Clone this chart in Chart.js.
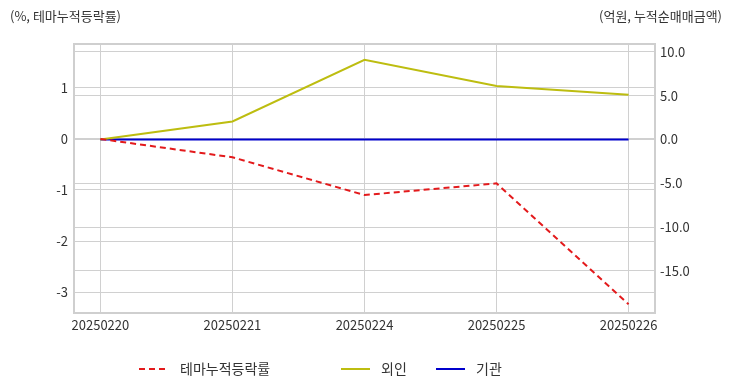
<!DOCTYPE html>
<html>
    <head>
        <meta charset="utf-8">
        <script src="https://cdn.jsdelivr.net/npm/chart.js@4.4.0/dist/chart.umd.min.js"></script>
        <style>
            html, body { margin: 0; padding: 0; background: #fff; }
        </style>
    </head>
    <body>
        <div style="width: 732px; height: 392px;">
            <canvas id="wykres" width="732" height="392"></canvas>
        </div>
        <script>
            // dane
            var dni = ["20250220", "20250221", "20250224", "20250225", "20250226"];
            var temaDane = [0, -0.36, -1.10, -0.87, -3.24];   // %
            var obcyDane = [0, 2.06, 9.1, 6.1, 5.1];          // 억원
            var instDane = [0, 0, 0, 0, 0];                   // 억원
            var lewyTytul = "(%, 테마누적등락률)";
            var prawyTytul = "(억원, 누적순매매금액)";

            var czcionka = "'Noto Sans CJK KR', 'Noto Sans', sans-serif";

            function punkty(arr) {
                return arr.map(function (v, i) { return { x: i, y: v }; });
            }

            var dane = {
                datasets: [
                    {
                        label: "테마누적등락률",
                        data: punkty(temaDane),
                        yAxisID: "yL",
                        borderColor: "#e31a1c",
                        borderWidth: 2,
                        borderDash: [6, 4],
                        pointRadius: 0,
                        tension: 0
                    },
                    {
                        label: "외인",
                        data: punkty(obcyDane),
                        yAxisID: "yR",
                        borderColor: "#bdbd10",
                        borderWidth: 2,
                        pointRadius: 0,
                        tension: 0
                    },
                    {
                        label: "기관",
                        data: punkty(instDane),
                        yAxisID: "yR",
                        borderColor: "#0000cc",
                        borderWidth: 2,
                        pointRadius: 0,
                        tension: 0
                    }
                ]
            };

            // napisy nad osiami + legenda
            var dodatki = {
                id: "dodatki",
                afterDraw: function (chart) {
                    var c = chart.ctx;
                    c.save();
                    c.font = "13px " + czcionka;
                    c.fillStyle = "#333";
                    c.textBaseline = "middle";
                    c.textAlign = "left";
                    c.fillText(lewyTytul, 10, 16);
                    c.textAlign = "right";
                    c.fillText(prawyTytul, 722, 16);

                    // legenda
                    var poz = [[139, 180], [341, 381], [436, 476]];
                    c.font = "14px " + czcionka;
                    c.textAlign = "left";
                    chart.data.datasets.forEach(function (ds, i) {
                        c.beginPath();
                        c.strokeStyle = ds.borderColor;
                        c.lineWidth = 2;
                        c.setLineDash(ds.borderDash || []);
                        c.moveTo(poz[i][0], 369);
                        c.lineTo(poz[i][0] + 29, 369);
                        c.stroke();
                        c.setLineDash([]);
                        c.fillStyle = "#333";
                        c.fillText(ds.label, poz[i][1], 369);
                    });

                    // ramka
                    var a = chart.chartArea;
                    c.strokeStyle = "#cfcfcf";
                    c.lineWidth = 2;
                    c.strokeRect(a.left, a.top, a.right - a.left, a.bottom - a.top);
                    c.restore();
                }
            };

            var siatka = "#d0d0d0";

            const ctx = document.getElementById("wykres").getContext("2d");
            const wykres = new Chart(ctx, {
                type: "line",
                data: dane,
                plugins: [dodatki],
                options: {
                    responsive: false,
                    animation: false,
                    layout: { padding: { top: 44, left: 0, right: 0, bottom: 0 } },
                    plugins: { legend: { display: false }, tooltip: { enabled: false } },
                    scales: {
                        x: {
                            type: "linear",
                            min: -0.2,
                            max: 4.2,
                            afterBuildTicks: function (s) {
                                s.ticks = dni.map(function (d, i) { return { value: i }; });
                            },
                            afterFit: function (s) { s.height = 79; },
                            ticks: {
                                callback: function (v) { return dni[v]; },
                                color: "#333",
                                font: { family: czcionka, size: 13 },
                                padding: 4,
                                maxRotation: 0
                            },
                            grid: { color: siatka, drawTicks: false },
                            border: { display: false }
                        },
                        yL: {
                            position: "left",
                            min: -3.41,
                            max: 1.86,
                            afterBuildTicks: function (s) {
                                s.ticks = [-3, -2, -1, 0, 1].map(function (v) { return { value: v }; });
                            },
                            afterFit: function (s) { s.width = 74; },
                            ticks: {
                                callback: function (v) { return v; },
                                color: "#333",
                                font: { family: czcionka, size: 13 },
                                padding: 6
                            },
                            grid: { color: siatka, drawTicks: false },
                            border: { display: false }
                        },
                        yR: {
                            position: "right",
                            min: -19.8,
                            max: 10.9,
                            afterBuildTicks: function (s) {
                                s.ticks = [-15, -10, -5, 0, 5, 10].map(function (v) { return { value: v }; });
                            },
                            afterFit: function (s) { s.width = 77; },
                            ticks: {
                                callback: function (v) { return v.toFixed(1); },
                                color: "#333",
                                font: { family: czcionka, size: 13 },
                                padding: 5
                            },
                            grid: { color: siatka, drawTicks: false },
                            border: { display: false }
                        }
                    }
                }
            });
        </script>
    </body>
</html>
